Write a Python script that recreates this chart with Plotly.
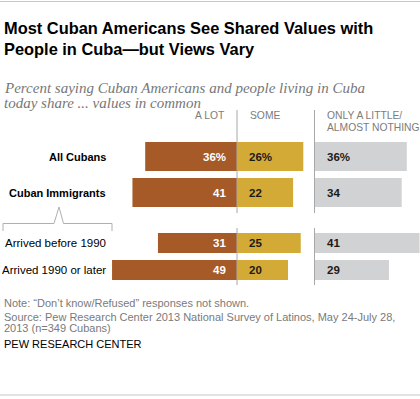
import plotly.graph_objects as go

# ---------------- data ----------------
categories = ["All Cubans", "Cuban Immigrants", "Arrived before 1990", "Arrived 1990 or later"]
a_lot = [36, 41, 31, 49]
some = [26, 22, 25, 20]
little = [36, 34, 41, 29]
label_bold = [True, True, False, False]
col_headers = ["A LOT", "SOME", "ONLY A LITTLE/", "ALMOST NOTHING"]

# ---------------- layout constants ----------------
W, H = 420, 399
PXU = 2.55            # pixels per percentage point
X0 = 237              # px of zero line for first two columns
X3 = 315              # px start of third column
row_y = [156.5, 192.5, 243, 270]   # row centres (px from top)
row_w = [29, 29, 20, 20]           # bar thickness (px)

BROWN = "#A65A27"
GOLD = "#D4AA37"
GRAY = "#D1D2D4"
SANS = "Liberation Sans, Arial, sans-serif"
SERIF = "Liberation Serif, Georgia, serif"


def px(x):
    return x / W


def py(y):
    return 1 - y / H


fig = go.Figure()

fig.add_trace(go.Bar(
    y=row_y, x=a_lot, base=[-v for v in a_lot], orientation="h", width=row_w,
    marker=dict(color=BROWN, line=dict(width=0)), hoverinfo="skip",
    xaxis="x", yaxis="y"))
fig.add_trace(go.Bar(
    y=row_y, x=some, base=[0] * len(some), orientation="h", width=row_w,
    marker=dict(color=GOLD, line=dict(width=0)), hoverinfo="skip",
    xaxis="x", yaxis="y"))
fig.add_trace(go.Bar(
    y=row_y, x=little, orientation="h", width=row_w,
    marker=dict(color=GRAY, line=dict(width=0)), hoverinfo="skip",
    xaxis="x2", yaxis="y"))

annotations = []


def note(x, y, text, font, anchor="left"):
    annotations.append(dict(x=px(x), y=py(y), xref="paper", yref="paper", text=text,
                            showarrow=False, xanchor=anchor, yanchor="middle", align=anchor,
                            font=font))


# value labels
for i, (a, s, l) in enumerate(zip(a_lot, some, little)):
    suf = "%" if i == 0 else ""
    annotations.append(dict(x=0, y=row_y[i], xref="x", yref="y", text=f"<b>{a}{suf}</b>",
                            showarrow=False, xanchor="right", xshift=-9,
                            font=dict(family=SANS, size=11.5, color="white")))
    annotations.append(dict(x=0, y=row_y[i], xref="x", yref="y", text=f"<b>{s}{suf}</b>",
                            showarrow=False, xanchor="left", xshift=10,
                            font=dict(family=SANS, size=11.5, color="#1a1a1a")))
    annotations.append(dict(x=0, y=row_y[i], xref="x2", yref="y", text=f"<b>{l}{suf}</b>",
                            showarrow=False, xanchor="left", xshift=10,
                            font=dict(family=SANS, size=11.5, color="#1a1a1a")))
    # row labels
    if label_bold[i]:
        txt, fs = f"<b>{categories[i]}</b>", 11
    else:
        txt, fs = categories[i], 11.5
    annotations.append(dict(x=px(108), y=row_y[i], xref="paper", yref="y", text=txt,
                            showarrow=False, xanchor="right",
                            font=dict(family=SANS, size=fs, color="#000000")))

# column headers
hdr_font = dict(family=SANS, size=10.3, color="#7c7c7c")
note(227, 115.5, col_headers[0], hdr_font, "right")
note(247.5, 115.5, col_headers[1], hdr_font)
note(325, 115.5, col_headers[2], hdr_font)
note(325, 127, col_headers[3], hdr_font)

# title, subtitle, notes
title_font = dict(family=SANS, size=16.4, color="#000000")
note(2, 28, "<b>Most Cuban Americans See Shared Values with</b>", title_font)
note(2, 49, "<b>People in Cuba\u2014but Views Vary</b>", title_font)
sub_font = dict(family=SERIF, size=15, color="#777777")
note(2, 87.5, "<i>Percent saying Cuban Americans and people living in Cuba</i>", sub_font)
note(2, 102.5, "<i>today share ... values in common</i>", sub_font)
foot_font = dict(family=SANS, size=11, color="#7a7a7a")
note(2, 302.5, "Note: \u201cDon\u2019t know/Refused\u201d responses not shown.", foot_font)
note(2, 316.5, "Source: Pew Research Center 2013 National Survey of Latinos, May 24-July 28,", foot_font)
note(2, 328, "2013 (n=349 Cubans)", foot_font)
note(2, 343.5, "PEW RESEARCH CENTER", dict(family=SANS, size=11, color="#000000"))

LINE = dict(color="#a8a8a8", width=1)
shapes = [
    dict(type="line", xref="paper", yref="paper", x0=0, x1=1, y0=py(1.5), y1=py(1.5),
         line=dict(color="#c8c8c8", width=1)),
    dict(type="line", xref="paper", yref="paper", x0=0, x1=1, y0=py(395), y1=py(395),
         line=dict(color="#c8c8c8", width=1)),
    # divider lines
    dict(type="line", xref="x", yref="y", x0=0, x1=0, y0=110, y1=213, line=LINE, layer="above"),
    dict(type="line", xref="x", yref="y", x0=0, x1=0, y0=228, y1=285, line=LINE, layer="above"),
    dict(type="line", xref="paper", yref="y", x0=px(314.5), x1=px(314.5), y0=110, y1=213, line=LINE),
    dict(type="line", xref="paper", yref="y", x0=px(314.5), x1=px(314.5), y0=228, y1=285, line=LINE),
    # bracket
    dict(type="path", xref="paper", yref="paper",
         path=(f"M {px(3)},{py(231)} L {px(3)},{py(223.5)} L {px(54)},{py(223.5)} "
               f"L {px(59)},{py(207)} L {px(63.5)},{py(223.5)} L {px(112)},{py(223.5)} "
               f"L {px(112)},{py(231)}"),
         line=dict(color="#b0b0b0", width=1)),
]

fig.update_layout(
    width=W, height=H, autosize=False,
    margin=dict(l=0, r=0, t=0, b=0),
    paper_bgcolor="white", plot_bgcolor="white",
    showlegend=False, barmode="overlay",
    xaxis=dict(domain=[0, 1], range=[-X0 / PXU, (W - X0) / PXU], visible=False, fixedrange=True),
    xaxis2=dict(domain=[X3 / W, 1], range=[0, (W - X3) / PXU], visible=False, fixedrange=True,
                anchor="y"),
    yaxis=dict(domain=[0, 1], range=[H, 0], visible=False, fixedrange=True),
    annotations=annotations, shapes=shapes,
)

fig.write_html("out.html", config={"displayModeBar": False},
               post_script="document.body.style.margin='0';document.body.style.overflow='hidden';")
